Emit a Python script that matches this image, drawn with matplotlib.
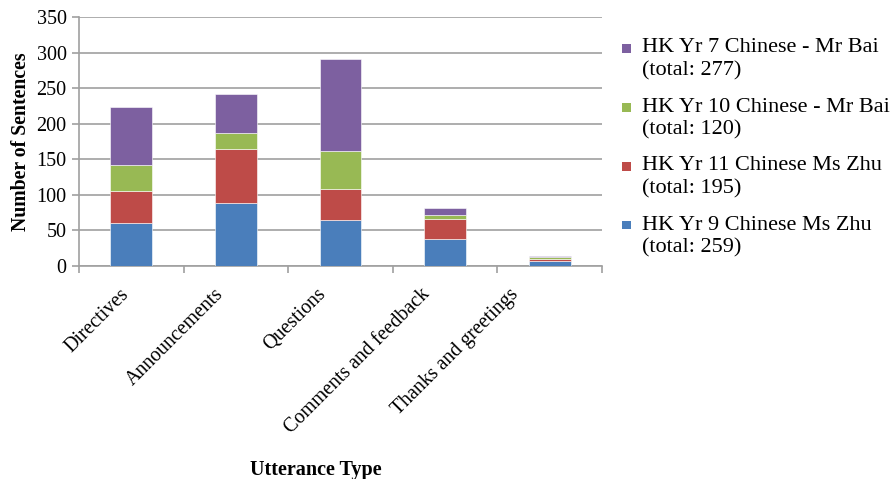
import matplotlib.pyplot as plt
from matplotlib.patches import Rectangle
import numpy as np

categories = ["Directives", "Announcements", "Questions",
              "Comments and feedback", "Thanks and greetings"]

# sentence counts per utterance type, one list per lesson
yr9_zhu = [61, 89, 64, 38, 7]
yr11_zhu = [45, 75, 44, 28, 3]
yr10_bai = [36, 23, 54, 5, 2]
yr7_bai = [81, 55, 129, 10, 2]

series = [
    ("HK Yr 9 Chinese Ms Zhu\n(total: 259)", yr9_zhu, "#4A7EBB"),
    ("HK Yr 11 Chinese Ms Zhu\n(total: 195)", yr11_zhu, "#BE4B48"),
    ("HK Yr 10 Chinese - Mr Bai\n(total: 120)", yr10_bai, "#98B954"),
    ("HK Yr 7 Chinese - Mr Bai\n(total: 277)", yr7_bai, "#7D60A0"),
]

plt.rcParams["font.family"] = ["Liberation Serif", "DejaVu Serif"]

W, H = 893, 479
fig = plt.figure(figsize=(W / 100, H / 100), dpi=100)
ax = fig.add_axes([79 / W, 1 - 266 / H, (602 - 79) / W, (266 - 17) / H])

x = np.arange(len(categories))
bottom = np.zeros(len(categories))
for label, vals, color in series:
    ax.bar(x, vals, width=0.4, bottom=bottom, color=color,
           edgecolor="white", linewidth=0.4, zorder=3)
    bottom += np.array(vals)

grey = "#a0a0a0"
ax.set_xlim(-0.5, len(categories) - 0.5)
ax.set_ylim(0, 350)
ax.set_yticks(np.arange(0, 351, 50))
ax.yaxis.grid(True, color=grey, linewidth=1.2, zorder=0)

for s in ["top", "right"]:
    ax.spines[s].set_visible(False)
for s in ["left", "bottom"]:
    ax.spines[s].set_color(grey)
    ax.spines[s].set_linewidth(1.2)

# category names drawn as slanted annotations, nudged left of the bar
ax.set_xticks(x)
ax.set_xticklabels([])
nudges = [-12, -22, -24, -25, -41]
for i, (name, dx) in enumerate(zip(categories, nudges)):
    ax.annotate(name, xy=(i, 0), xycoords=("data", "axes fraction"),
                xytext=(dx, -19), textcoords="offset pixels",
                rotation=45, ha="right", va="top", rotation_mode="anchor",
                fontsize=14.3)
ax.set_xticks(np.arange(-0.5, len(categories), 1), minor=True)
ax.tick_params(axis="x", which="major", length=0)
ax.tick_params(axis="x", which="minor", length=5, color=grey, width=1.2)
ax.tick_params(axis="y", length=5, color=grey, width=1.2,
               labelsize=14.5, pad=4)

ax.set_ylabel("Number of Sentences", fontsize=14.2, fontweight="bold",
              labelpad=4)
fig.text(316 / W, 1 - 470 / H, "Utterance Type", fontsize=14.5,
         fontweight="bold", ha="center", va="center")

# legend: newest lesson on top, swatch level with the first text line
for i, (label, vals, color) in enumerate(series[::-1]):
    y0 = 48 + i * 59
    fig.add_artist(Rectangle((622 / W, 1 - (y0 + 4.5) / H), 9 / W, 9 / H,
                             facecolor=color, edgecolor="none",
                             transform=fig.transFigure))
    for j, line in enumerate(label.split("\n")):
        fig.text(642 / W, 1 - (y0 + 23 * j) / H, line, fontsize=16,
                 ha="left", va="center")

fig.savefig("out.png", dpi=100)
